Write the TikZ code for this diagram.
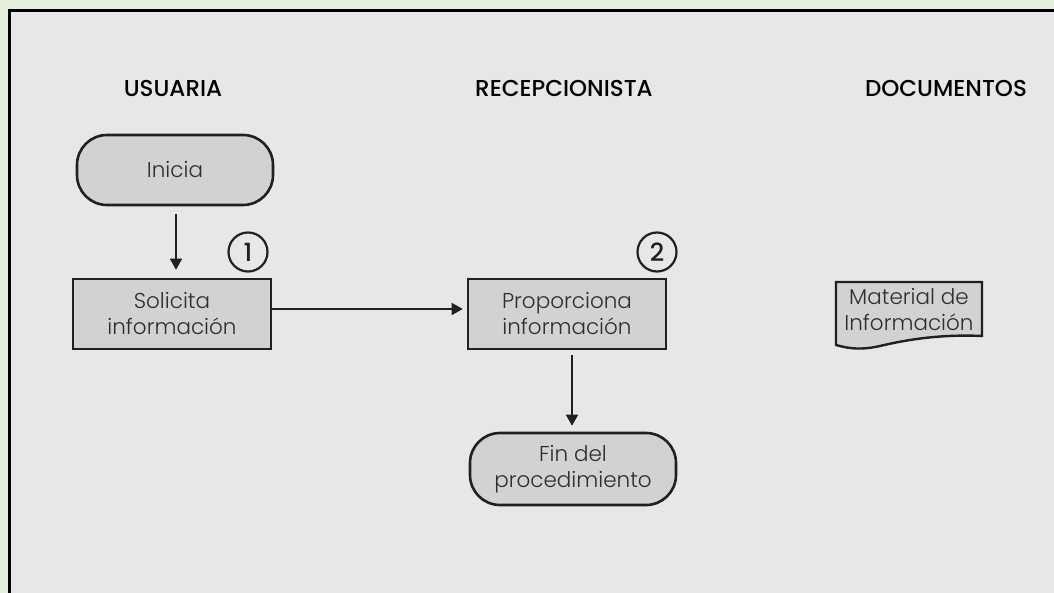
\documentclass[tikz,border=0pt]{standalone}
\usepackage{fontspec}
\usetikzlibrary{arrows.meta}
\setmainfont{Poppins}
\newfontfamily\bodyfont{Poppins Light}
\newfontfamily\headfont{Poppins Medium}
\definecolor{pagegreen}{HTML}{E2EFD9}
\definecolor{panelgray}{HTML}{E6E7E8}
\definecolor{boxgray}{HTML}{D1D2D4}
\definecolor{ink}{HTML}{231F20}
\definecolor{bodyink}{HTML}{2E2E30}
\begin{document}
\begin{tikzpicture}[x=1pt,y=-1pt,
  header/.style={font=\headfont\fontsize{23}{26}\selectfont, text=black, anchor=center},
  terminal/.style={draw=ink, line width=2.6pt, fill=boxgray, rounded corners=30pt,
    minimum width=196pt, minimum height=70pt, align=center,
    font=\bodyfont\fontsize{21.5}{26}\selectfont, text=bodyink},
  process/.style={draw=ink, line width=2.6pt, fill=boxgray,
    minimum width=198pt, minimum height=70pt, align=center,
    font=\bodyfont\fontsize{21.5}{26}\selectfont, text=bodyink},
  stepnum/.style={draw=ink, line width=2.2pt, circle, minimum size=39pt, inner sep=0pt,
    font=\headfont\fontsize{25}{26}\selectfont, text=ink},
  flow/.style={draw=ink, line width=1.7pt, -{Triangle[length=11pt,width=12pt]}},
  doclabel/.style={align=center, font=\bodyfont\fontsize{21.5}{26}\selectfont, text=bodyink}
]
\useasboundingbox (0,0) rectangle (1054,593);
\fill[pagegreen] (0,0) rectangle (1054,593);
% panel
\draw[fill=panelgray, line width=3pt, draw=black] (9,11) -- (1060,11) -- (1060,600) -- (9,600) -- cycle;

% lane headers
\node[header] (hUser) at (173,88) {USUARIA};
\node[header] (hRecep) at (564,88) {RECEPCIONISTA};
\node[header] (hDocs) at (946,88) {DOCUMENTOS};

% flow nodes
\node[terminal] (start) at (175,170) {Inicia};
\node[process] (ask) at (172,314) {Solicita\\información};
\node[process] (give) at (567,314) {Proporciona\\información};
\node[terminal, minimum width=206pt, minimum height=72pt] (finish) at (573,469) {Fin del\\procedimiento};

% step numbers
\node[stepnum] (n1) at (248,252) {1};
\node[stepnum] (n2) at (657,252) {2};

% document symbol
\draw[draw=ink, line width=2.4pt, fill=boxgray]
  (836,282) -- (982,282) -- (982,336)
  .. controls (940,334) and (905,340) .. (880,346)
  .. controls (862,350) and (850,349) .. (836,345) -- cycle;
\node[doclabel] (doc) at (909,310) {Material de\\Información};

% connectors
\draw[flow] ([yshift=-8pt]start.south -| 176,0) -- ([yshift=8pt]ask.north -| 176,0);
\draw[flow] (ask.east |- 0,309) -- ([xshift=-4pt]give.west |- 0,309);
\draw[flow] ([yshift=-5pt]give.south -| 572,0) -- ([yshift=6pt]finish.north -| 572,0);
\end{tikzpicture}
\end{document}
